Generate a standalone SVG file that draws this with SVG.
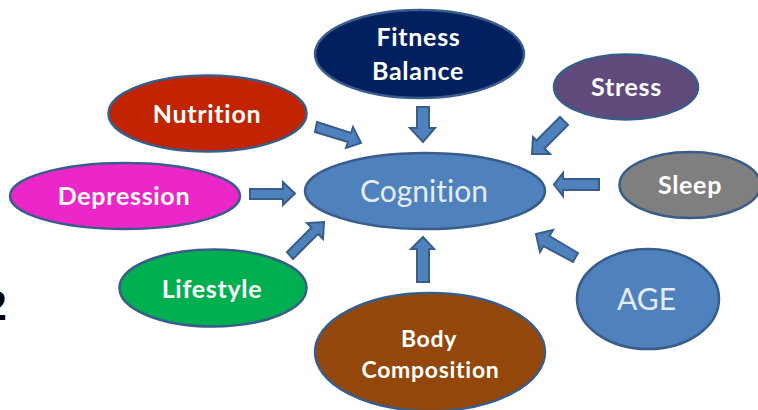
<svg xmlns="http://www.w3.org/2000/svg" width="758" height="410" viewBox="0 0 758 410">
<style>
.n{stroke:#385D8A;stroke-width:2.5}
.t{font-family:"Lato","Open Sans",sans-serif;font-weight:700;font-size:25px;letter-spacing:.7px;font-variant-ligatures:none;fill:#fff;text-anchor:middle}
.b{font-size:23px;letter-spacing:.7px}
.r{font-family:"Lato","Open Sans",sans-serif;font-weight:400;font-size:30px;font-variant-ligatures:none;fill:#E4ECF6;text-anchor:middle}
.a{fill:#4F81BD;stroke:#385D8A;stroke-width:2;stroke-linejoin:miter}
</style>
<rect width="758" height="410" fill="#fff"/>
<text x="-15" y="320" font-family="'Liberation Serif',serif" font-weight="700" font-size="44" fill="#000">2</text>
<g id="connectors">
<polygon class="a" points="317,122 351,133 353,127 361,143 346,148 348,142 315,132"/>
<polygon class="a" points="250,189 283,189 283,182 295,193.500 283,205 283,199 250,199"/>
<polygon class="a" points="417,107 429,107 429,128 435,128 423,142 410,128 417,128"/>
<polygon class="a" points="560,117 568,125 544.500,148.500 550,154 532,154 533,137 536.500,140.500"/>
<polygon class="a" points="599,179 599,190 563,190 563,196 554,184.500 563,173 563,179"/>
<polygon class="a" points="578,253 573,262 543.500,246 540,252 536,234 553,230 549.500,236"/>
<polygon class="a" points="417,282 429,282 429,249 434,249 423,237 411,249 417,249"/>
<polygon class="a" points="287,252 293,259 318,234 323,239 324,222 307,223 311.500,227.500"/>
</g>
<g id="fitness"><ellipse class="n" cx="419.500" cy="54" rx="104.500" ry="44" fill="#002060"/><text class="t" x="418.500" y="46">Fitness</text><text class="t" x="418" y="80">Balance</text></g>
<g id="nutrition"><ellipse class="n" cx="207.500" cy="113.500" rx="99" ry="38" fill="#C22300"/><text class="t" x="207" y="123">Nutrition</text></g>
<g id="stress"><ellipse class="n" cx="626" cy="87" rx="72" ry="32.500" fill="#604A7B"/><text class="t" x="626.500" y="96">Stress</text></g>
<g id="depression"><ellipse class="n" cx="125" cy="196" rx="115" ry="33" fill="#EB27C9"/><text class="t" x="124" y="205">Depression</text></g>
<g id="cognition"><ellipse class="n" cx="425" cy="191" rx="120" ry="38" fill="#4F81BD"/><text class="r" x="424" y="202">Cognition</text></g>
<g id="sleep"><ellipse class="n" cx="690" cy="185" rx="70.500" ry="33" fill="#7F7F7F"/><text class="t" x="690" y="194">Sleep</text></g>
<g id="lifestyle"><ellipse class="n" cx="213" cy="288" rx="93.500" ry="38.500" fill="#00B050"/><text class="t" x="212" y="298">Lifestyle</text></g>
<g id="age"><ellipse class="n" cx="648" cy="299" rx="71" ry="50" fill="#4F81BD"/><text class="r" x="646.500" y="310">AGE</text></g>
<g id="body"><ellipse class="n" cx="430" cy="352" rx="115" ry="59" fill="#93470A"/><text class="t b" x="429" y="347">Body</text><text class="t b" x="430.500" y="378">Composition</text></g>
</svg>
